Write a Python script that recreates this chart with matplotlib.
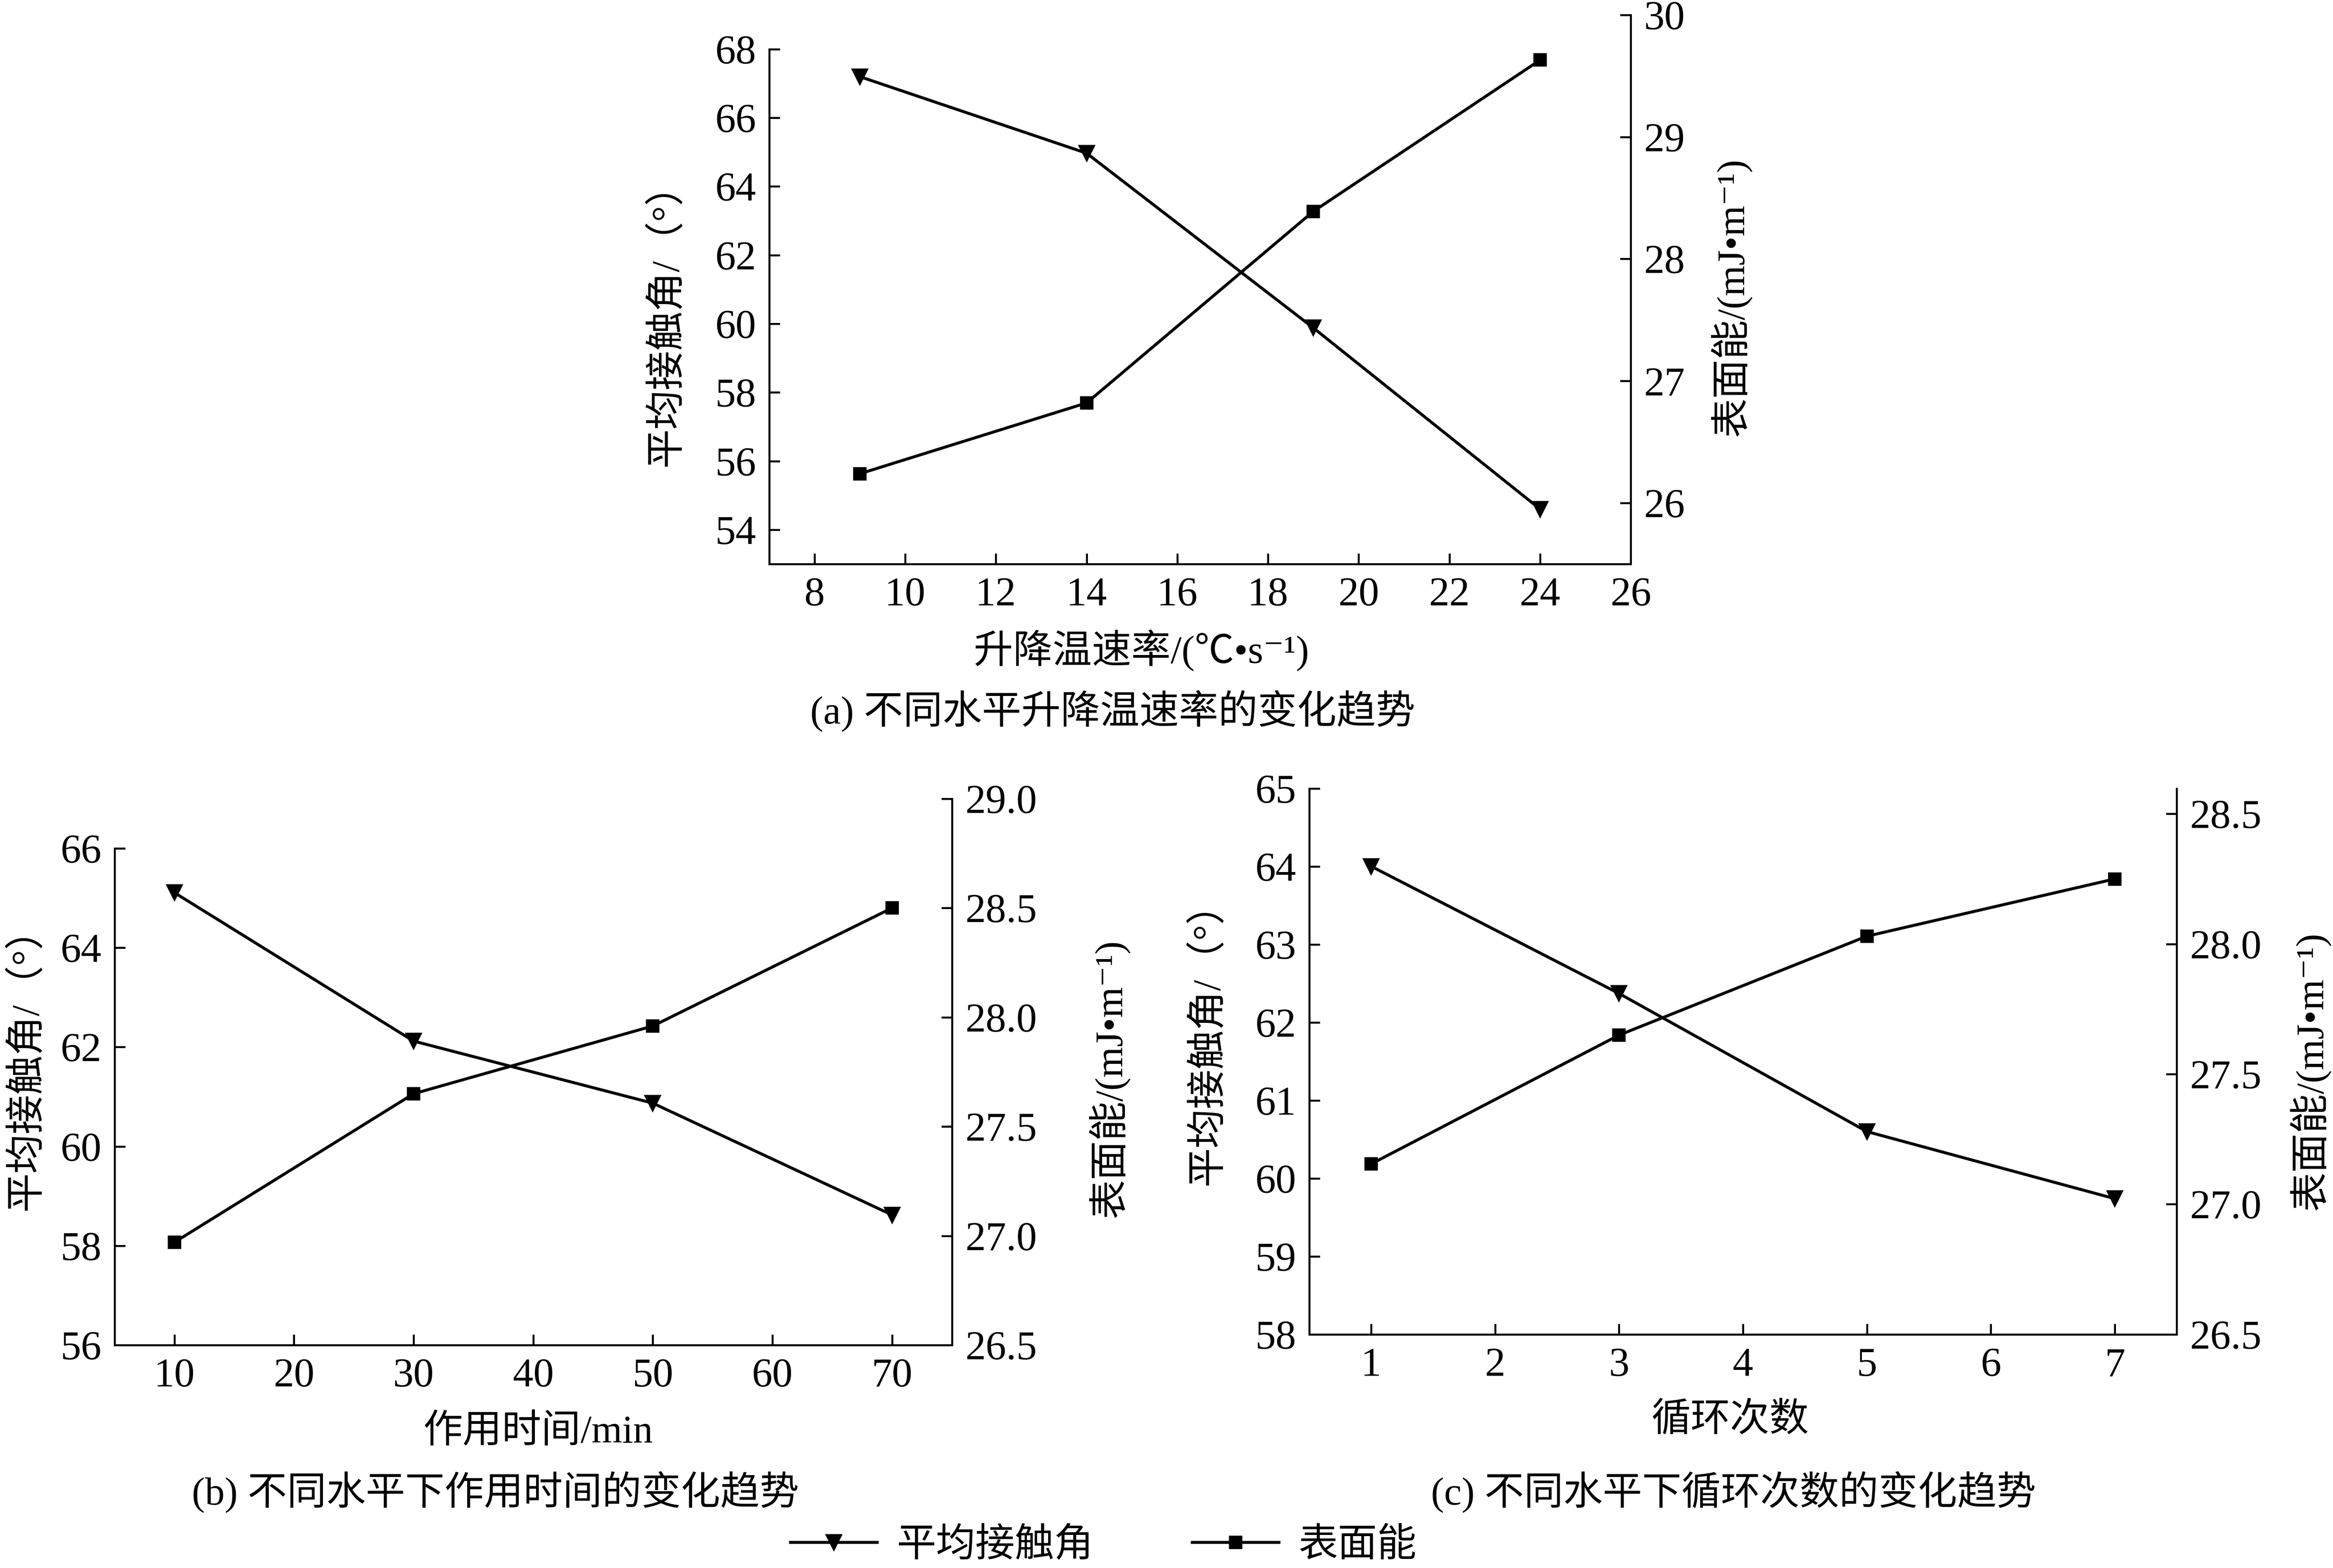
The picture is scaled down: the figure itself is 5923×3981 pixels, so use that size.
import matplotlib
matplotlib.use('Agg')
import matplotlib.pyplot as plt
from matplotlib.ticker import FormatStrFormatter

plt.rcParams['font.family'] = ['Liberation Serif', 'Noto Sans CJK SC', 'DejaVu Serif']
plt.rcParams['axes.unicode_minus'] = False

# (a) heating/cooling rate
rate = [9, 14, 19, 24]
rate_angle = [67.2, 64.97, 59.88, 54.6]
rate_energy = [26.24, 26.82, 28.39, 29.63]

# (b) action time
time_min = [10, 30, 50, 70]
time_angle = [65.11, 62.12, 60.87, 58.62]
time_energy = [26.97, 27.65, 27.96, 28.50]

# (c) cycle number
cycles = [1, 3, 5, 7]
cycle_angle = [64.0, 62.37, 60.60, 59.74]
cycle_energy = [27.155, 27.65, 28.03, 28.25]

angle_label = '平均接触角/（°）'
energy_label = '表面能/(mJ•m⁻¹)'

TICK = 25
LAB = 24
LW = 1.8

fig = plt.figure(figsize=(5923 / 300, 3981 / 300), dpi=300)


def panel(rect, x, angle, energy, xlim, xticks, ylim_l, lt, ylim_r, rt,
          xlabel, xlab_pos, ylab_l_pos, ylab_r_pos, fmt=None):
    ax = fig.add_axes(rect)
    ax2 = ax.twinx()
    l1, = ax.plot(x, angle, color='black', lw=LW, marker='v', ms=9,
                  label='平均接触角', zorder=3)
    l2, = ax2.plot(x, energy, color='black', lw=LW, marker='s', ms=7,
                   label='表面能', zorder=3)
    ax.set_xlim(*xlim)
    ax.set_xticks(xticks)
    ax.set_ylim(*ylim_l)
    ax.set_yticks(lt)
    ax2.set_ylim(*ylim_r)
    ax2.set_yticks(rt)
    if fmt:
        ax2.yaxis.set_major_formatter(FormatStrFormatter(fmt))
    ax.spines['top'].set_visible(False)
    ax2.spines['top'].set_visible(False)
    ax.spines['left'].set_bounds(ylim_l[0], lt[-1])
    ax2.spines['right'].set_bounds(ylim_r[0], rt[-1])
    for a in (ax, ax2):
        for s in a.spines.values():
            s.set_linewidth(1.2)
        a.tick_params(direction='in', length=6.5, width=1.2, labelsize=TICK,
                      pad=8)
    ax2.spines['left'].set_visible(False)
    ax2.spines['bottom'].set_visible(False)
    ax.set_xlabel(xlabel, fontsize=LAB, va='center')
    ax.xaxis.set_label_coords(*xlab_pos)
    ax.set_ylabel(angle_label, fontsize=LAB, va='center', ha='center')
    ax.yaxis.set_label_coords(*ylab_l_pos)
    ax2.set_ylabel(energy_label, fontsize=LAB, rotation=90, va='center',
                   ha='center')
    ax2.yaxis.set_label_coords(*ylab_r_pos)
    return l1, l2


h1, h2 = panel([0.3297, 0.6403, 0.3693, 0.3502], rate, rate_angle, rate_energy,
               (7, 26), range(8, 27, 2), (53, 69), range(54, 69, 2),
               (25.5, 30), range(26, 31),
               '升降温速率/(℃•s⁻¹)', (0.432, -0.157), (-0.119, 0.453), (1.116, 0.486))

panel([0.0491, 0.1422, 0.3589, 0.3484], time_min, time_angle, time_energy,
      (5, 75), range(10, 71, 10), (56, 67), range(56, 67, 2),
      (26.5, 29.0), [26.5, 27.0, 27.5, 28.0, 28.5, 29.0],
      '作用时间/min', (0.506, -0.160), (-0.105, 0.523), (1.187, 0.488), '%.1f')

panel([0.5612, 0.149, 0.3718, 0.3482], cycles, cycle_angle, cycle_energy,
      (0.5, 7.5), range(1, 8), (58, 65), range(58, 66),
      (26.5, 28.598), [26.5, 27.0, 27.5, 28.0, 28.5],
      '循环次数', (0.4855, -0.158), (-0.117, 0.55), (1.153, 0.482), '%.1f')

fig.text(0.477, 0.5464, '(a) 不同水平升降温速率的变化趋势', fontsize=LAB,
         ha='center', va='center')
fig.text(0.2124, 0.0482, '(b) 不同水平下作用时间的变化趋势', fontsize=LAB,
         ha='center', va='center')
fig.text(0.743, 0.0482, '(c) 不同水平下循环次数的变化趋势', fontsize=LAB,
         ha='center', va='center')

fig.legend(handles=[h1, h2], loc='center', bbox_to_anchor=(0.473, 0.014),
           ncol=2, frameon=False, fontsize=LAB, handlelength=2.2,
           columnspacing=2.5, handletextpad=0.5)

fig.savefig('out.png', dpi=300)
